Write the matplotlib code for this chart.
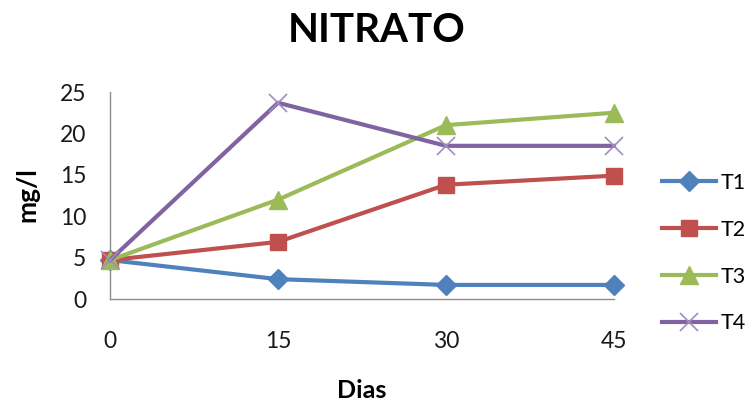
import matplotlib
matplotlib.use('Agg')
import matplotlib.pyplot as plt

# Nitrato (mg/l) por tratamento ao longo dos dias
dias = ['0', '15', '30', '45']
t1 = [4.7, 2.4, 1.7, 1.7]
t2 = [4.7, 6.9, 13.8, 14.9]
t3 = [4.7, 12.0, 21.0, 22.5]
t4 = [4.7, 23.7, 18.5, 18.5]
series = ['T1', 'T2', 'T3', 'T4']

plt.rcParams['font.family'] = ['Lato', 'DejaVu Sans']

fig = plt.figure(figsize=(7.53, 4.05), dpi=100)
ax = fig.add_axes([0.1461, 0.2617, 0.8154 - 0.1461, 0.7728 - 0.2617])

x = list(range(len(dias)))
estilos = [
    (t1, '#4F81BD', 'D', 10),
    (t2, '#C0504D', 's', 12),
    (t3, '#9BBB59', '^', 13),
    (t4, '#8064A2', 'x', 13),
]
for (vals, cor, mk, ms), nome in zip(estilos, series):
    ax.plot(x, vals, color=cor, lw=3, marker=mk, markersize=ms,
            markeredgewidth=1 if mk != 'x' else 1.2,
            markeredgecolor=cor if mk != 'x' else '#A08CC0',
            label=nome, clip_on=False, zorder=3)

ax.set_xlim(0, 3)
ax.set_ylim(0, 25)
ax.set_yticks([0, 5, 10, 15, 20, 25])
ax.set_xticks(x)
ax.set_xticklabels(dias)
ax.tick_params(axis='both', length=0, labelsize=16.5, colors='#1a1a1a')
ax.tick_params(axis='y', pad=17)
ax.tick_params(axis='x', pad=23)

for s in ['top', 'right']:
    ax.spines[s].set_visible(False)
for s in ['left', 'bottom']:
    ax.spines[s].set_color('#8C8C8C')
    ax.spines[s].set_linewidth(1)

fig.text(0.5, 0.925, 'NITRATO', ha='center', va='center',
         fontsize=29, fontweight='bold')
fig.text(0.036, 0.52, 'mg/l', ha='center', va='center', rotation=90,
         fontsize=19, fontweight='bold')
fig.text(0.48, 0.018, 'Dias', ha='center', va='baseline',
         fontsize=18, fontweight='bold')

leg = fig.legend(loc='center left', bbox_to_anchor=(0.868, 0.375),
                 frameon=False, fontsize=15.5, handlelength=2.5,
                 handletextpad=0.2, labelspacing=1.25, borderaxespad=0)

fig.savefig('out.png', dpi=100)
